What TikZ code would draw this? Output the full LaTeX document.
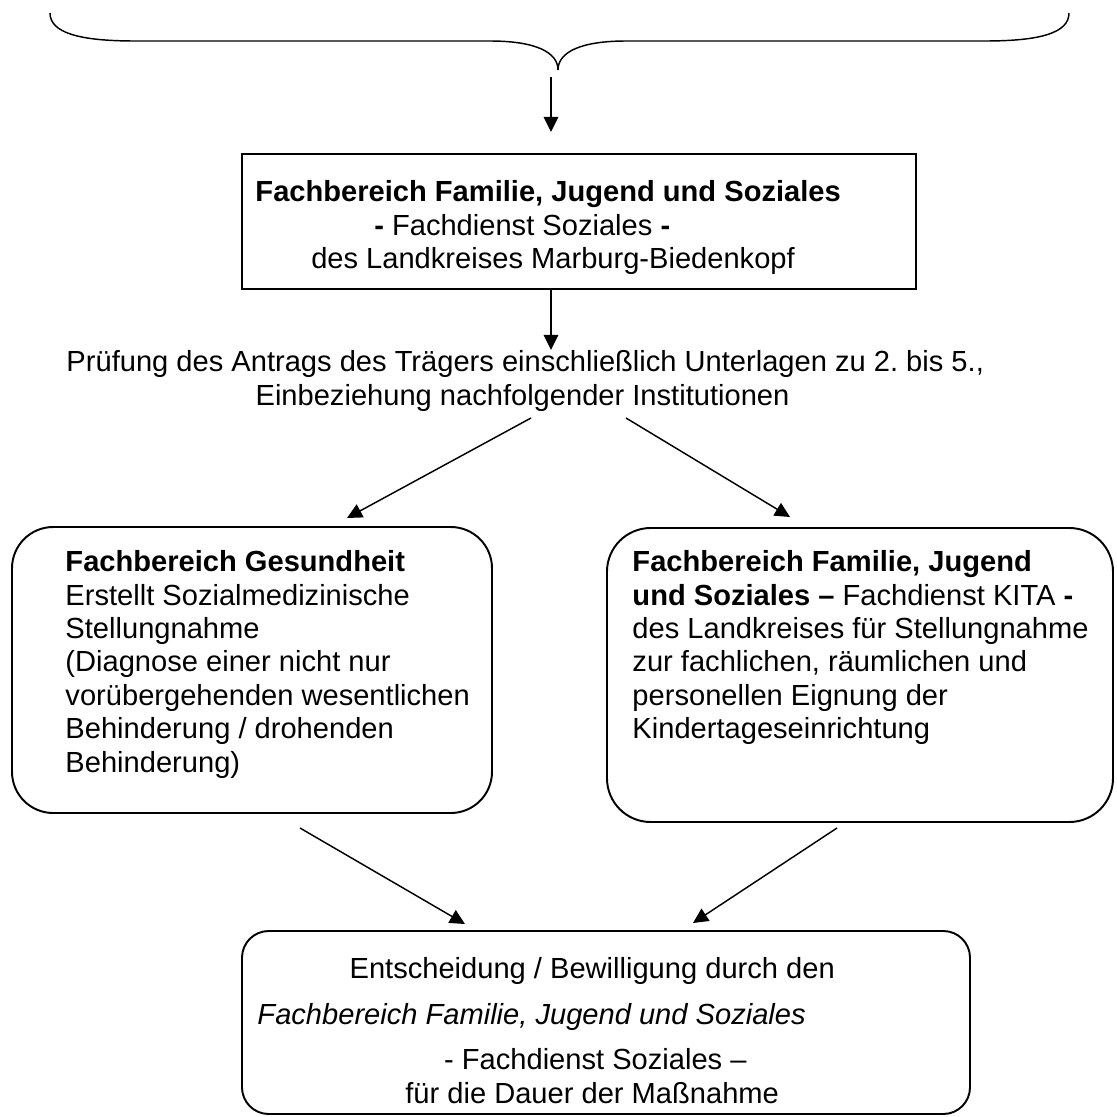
\documentclass[tikz,border=0pt]{standalone}
\usepackage{fontspec}
\setmainfont{Liberation Sans}
\usetikzlibrary{arrows.meta,fit}
\frenchspacing

\tikzset{
  box/.style={draw, line width=0.8pt, inner sep=0pt},
  txt/.style={align=left, inner sep=0pt, anchor=north west,
    font=\fontsize{12pt}{13.8pt}\selectfont},
  arr/.style={-{Triangle[length=6.2pt,width=6pt]}, line width=0.6pt},
}

\begin{document}
\begin{tikzpicture}[x=0.014493cm, y=-0.014493cm]
\useasboundingbox (0,0) rectangle (1117,1117);

% brace
\draw[line width=0.6pt] (50,13) .. controls (50,33) and (80,41) .. (135,41) -- (490,41)
  .. controls (535,41) and (558,52) .. (558,70)
  .. controls (558,52) and (581,41) .. (626,41) -- (985,41)
  .. controls (1040,41) and (1069,33) .. (1069,13);

% boxes
\node[box, fit={(242,154) (916,289)}] (fbsoz) {};
\node[box, rounded corners=17pt, fit={(12,527) (492,813)}] (gesund) {};
\node[box, rounded corners=18pt, fit={(607,528) (1113,822)}] (kita) {};
\node[box, rounded corners=11pt, fit={(242,931) (970,1114)}] (entsch) {};

% texts
\node[txt] (fbsoztxt) at (255,180) {\textbf{Fachbereich Familie, Jugend und Soziales}\\
  \hspace*{49pt}\textbf{-} Fachdienst Soziales \textbf{-}\\
  \hspace*{23pt}des Landkreises Marburg-Biedenkopf};
\node[txt] (pruef) at (66,350) {Prüfung des Antrags des Trägers einschließlich Unterlagen zu 2. bis 5.,\\
  \hspace*{78pt}Einbeziehung nachfolgender Institutionen};
\node[txt] (gesundtxt) at (65,550) {\textbf{Fachbereich Gesundheit}\\
  Erstellt Sozialmedizinische\\
  Stellungnahme\\
  (Diagnose einer nicht nur\\
  vorübergehenden wesentlichen\\
  Behinderung / drohenden\\
  Behinderung)};
\node[txt] (kitatxt) at (632,550) {\textbf{Fachbereich Familie, Jugend}\\
  \textbf{und Soziales –} Fachdienst KITA \textbf{-}\\
  des Landkreises für Stellungnahme\\
  zur fachlichen, räumlichen und\\
  personellen Eignung der\\
  Kindertageseinrichtung};
\node[txt] (entschtxt) at (257,957) {\hspace*{38pt}Entscheidung / Bewilligung durch den\\[5pt]
  \textit{Fachbereich Familie, Jugend und Soziales}\\[5pt]
  \hspace*{77pt}- Fachdienst Soziales –\\
  \hspace*{61pt}für die Dauer der Maßnahme};

% arrow ends
\coordinate (a1) at (551,77);
\coordinate (pl) at (531,418);
\coordinate (pr) at (626,418);
\coordinate (gin) at (347,518);
\coordinate (kin) at (790,517);
\coordinate (gout) at (300,828);
\coordinate (kout) at (837,828);
\coordinate (ein1) at (465,924);
\coordinate (ein2) at (693,923);

% arrows
\draw[arr, shorten >=8.7pt] (a1) -- (a1 |- fbsoz.north);
\draw[arr] (fbsoz.south -| a1) -- (a1 |- pruef.north);
\draw[arr] (pl) -- (gin);
\draw[arr] (pr) -- (kin);
\draw[arr] (gout) -- (ein1);
\draw[arr] (kout) -- (ein2);
\end{tikzpicture}
\end{document}
